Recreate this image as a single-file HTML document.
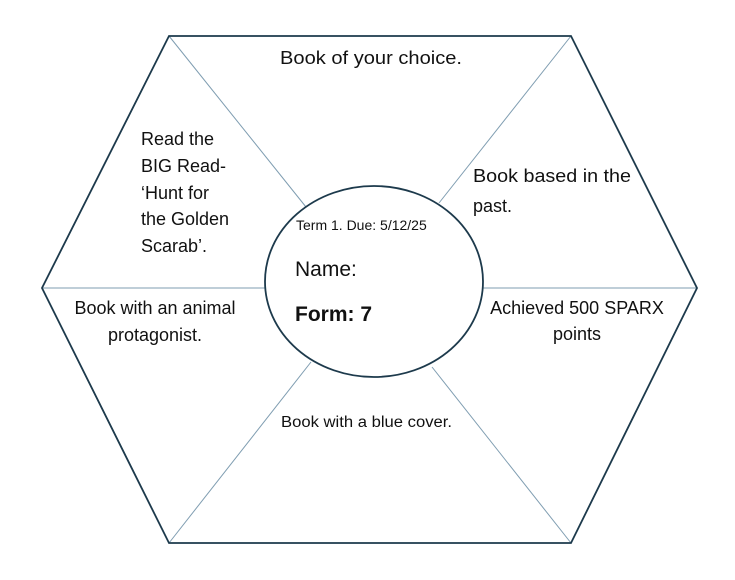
<!DOCTYPE html>
<html><head><style>html,body{margin:0;padding:0;background:#fff}svg{display:block}</style></head>
<body>
<svg width="735" height="580" viewBox="0 0 735 580" xmlns="http://www.w3.org/2000/svg" font-family="'Liberation Sans', sans-serif" fill="#111">
<g stroke="#7f9db1" stroke-width="1">
<line x1="169" y1="36" x2="306" y2="207"/>
<line x1="571" y1="36" x2="439" y2="203"/>
<line x1="42" y1="288" x2="265" y2="288"/>
<line x1="483" y1="288" x2="697" y2="288"/>
<line x1="169" y1="543" x2="311" y2="362"/>
<line x1="571" y1="543" x2="432" y2="367"/>
</g>
<polygon points="169,36 571,36 697,288 571,543 169,543 42,288" fill="none" stroke="#1d3a4c" stroke-width="1.8"/>
<ellipse cx="374" cy="281.5" rx="109" ry="95.5" fill="#fff" stroke="#1d3a4c" stroke-width="1.8"/>
<g font-size="18">
<text x="280" y="64" textLength="182" lengthAdjust="spacingAndGlyphs">Book of your choice.</text>
<text x="141" y="145">Read the</text>
<text x="141" y="172">BIG Read-</text>
<text x="141" y="199">‘Hunt for</text>
<text x="141" y="225">the Golden</text>
<text x="141" y="252">Scarab’.</text>
<text x="473" y="182" textLength="158" lengthAdjust="spacingAndGlyphs">Book based in the</text>
<text x="473" y="212">past.</text>
<text x="155" y="314" text-anchor="middle">Book with an animal</text>
<text x="155" y="341" text-anchor="middle">protagonist.</text>
<text x="577" y="314" text-anchor="middle">Achieved 500 SPARX</text>
<text x="577" y="340" text-anchor="middle">points</text>
</g>
<text x="281" y="427" font-size="15.5" textLength="171" lengthAdjust="spacingAndGlyphs">Book with a blue cover.</text>
<text x="296" y="230" font-size="14">Term 1. Due: 5/12/25</text>
<text x="295" y="276" font-size="21">Name:</text>
<text x="295" y="321" font-size="21" font-weight="bold">Form: 7</text>
</svg>
</body></html>
